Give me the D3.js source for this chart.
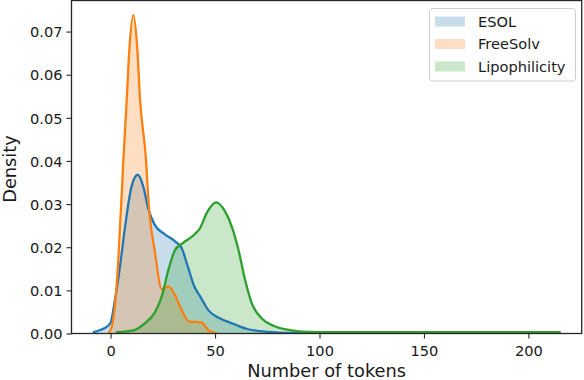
<!DOCTYPE html>
<html>
<head>
<meta charset="utf-8">
<script src="https://cdn.jsdelivr.net/npm/d3@7/dist/d3.min.js"></script>
<style>
  html, body { margin: 0; padding: 0; background: #fff; }
  svg { display: block; font-family: "DejaVu Sans", sans-serif; }
</style>
</head>
<body>
<svg id="chart" width="584" height="380"></svg>
<script>
// ---- Data ----
const seriesNames = ["ESOL", "FreeSolv", "Lipophilicity"];

const esolX = [-8, -5, -3, 0, 2, 4.5, 7, 10, 13, 15.7, 18, 21, 26, 31, 34, 37, 40, 43, 47, 52, 59, 65, 75, 90, 105];
const esolY = [0.0003, 0.0008, 0.0012, 0.0025, 0.0075, 0.0155, 0.025, 0.034, 0.0368, 0.034, 0.029, 0.0253, 0.023, 0.0213, 0.0198, 0.0155, 0.011, 0.0085, 0.0053, 0.0036, 0.0022, 0.0011, 0.0004, 0.0001, 0.0];

const freesolvX = [-1, 0.6, 2.2, 3.7, 6.1, 7.75, 9.0, 10.9, 12.8, 14.1, 17, 18.1, 21.3, 24.5, 27.7, 30.5, 33.3, 38, 41, 43.7, 46.8, 50.8];
const freesolvY = [0.0, 0.0016, 0.007, 0.017, 0.040, 0.0543, 0.0659, 0.0738, 0.0659, 0.0543, 0.040, 0.031, 0.0187, 0.0103, 0.0109, 0.0092, 0.0062, 0.0027, 0.0027, 0.0025, 0.0008, 0.0];

const lipoX = [3, 10.9, 16.5, 21.3, 24.5, 27.7, 30.9, 34.1, 40, 42.8, 46, 50.5, 54.8, 58, 61.2, 64.4, 67.6, 72.4, 77.9, 85.9, 93.9, 110, 150, 215];
const lipoY = [0.0003, 0.0007, 0.0024, 0.005, 0.0086, 0.0148, 0.0194, 0.0208, 0.0229, 0.0244, 0.0279, 0.0304, 0.0283, 0.0248, 0.0194, 0.0124, 0.007, 0.0035, 0.0018, 0.0008, 0.0004, 0.0003, 0.0003, 0.0003];

const xTickValues = [0, 50, 100, 150, 200];
const yTickValues = [0, 0.01, 0.02, 0.03, 0.04, 0.05, 0.06, 0.07];
const xLabel = "Number of tokens";
const yLabel = "Density";
const colors = ["#1f77b4", "#ff7f0e", "#2ca02c"];

// ---- Build ----
const series = [
  { name: seriesNames[0], xs: esolX, ys: esolY, color: colors[0] },
  { name: seriesNames[1], xs: freesolvX, ys: freesolvY, color: colors[1] },
  { name: seriesNames[2], xs: lipoX, ys: lipoY, color: colors[2] }
];

const svg = d3.select("#chart");
const pLeft = 71.5, pRight = 581.7, pTop = 0.5, pBottom = 333.5;

const x = d3.scaleLinear().domain([-18.7, 225.5]).range([pLeft, pRight]);
const y = d3.scaleLinear().domain([0, 0.0772]).range([pBottom, pTop]);

const defs = svg.append("defs");
defs.append("clipPath").attr("id", "plotclip")
  .append("rect").attr("x", pLeft).attr("y", pTop)
  .attr("width", pRight - pLeft).attr("height", pBottom - pTop);

const plot = svg.append("g").attr("clip-path", "url(#plotclip)");
const fillLayer = plot.append("g");
const lineLayer = plot.append("g");

const area = d3.area()
  .x(d => x(d[0])).y0(y(0)).y1(d => y(d[1]))
  .curve(d3.curveMonotoneX);
const line = d3.line()
  .x(d => x(d[0])).y(d => y(d[1]))
  .curve(d3.curveMonotoneX);

series.forEach(s => {
  const pts = s.xs.map((xv, i) => [xv, s.ys[i]]);
  fillLayer.append("path").datum(pts)
    .attr("d", area)
    .attr("fill", s.color).attr("fill-opacity", 0.25).attr("stroke", "none");
  lineLayer.append("path").datum(pts)
    .attr("d", line)
    .attr("fill", "none").attr("stroke", s.color)
    .attr("stroke-width", 2.3).attr("stroke-linejoin", "round").attr("stroke-linecap", "round");
});

// Axes
const textColor = "#1a1a1a";
const xAxis = svg.append("g").attr("transform", `translate(0,${pBottom})`)
  .call(d3.axisBottom(x).tickValues(xTickValues).tickFormat(d3.format("d")).tickSize(5).tickSizeOuter(0));
const yAxis = svg.append("g").attr("transform", `translate(${pLeft},0)`)
  .call(d3.axisLeft(y).tickValues(yTickValues).tickFormat(d3.format(".2f")).tickSize(5).tickSizeOuter(0));

[xAxis, yAxis].forEach(g => {
  g.select(".domain").remove();
  g.selectAll(".tick line").attr("stroke", "#262626").attr("stroke-width", 1.1);
  g.selectAll(".tick text")
    .attr("fill", textColor)
    .style("font-family", "'DejaVu Sans', sans-serif")
    .style("font-size", "14.6px");
});
xAxis.selectAll(".tick text").attr("dy", null).attr("y", 22);
yAxis.selectAll(".tick text").attr("x", -9).attr("dy", "0.36em");

// Spines
svg.append("rect")
  .attr("x", pLeft).attr("y", pTop)
  .attr("width", pRight - pLeft).attr("height", pBottom - pTop)
  .attr("fill", "none").attr("stroke", "#262626").attr("stroke-width", 1.3);

// Axis labels
svg.append("text")
  .attr("x", (pLeft + pRight) / 2).attr("y", 377)
  .attr("text-anchor", "middle")
  .attr("fill", textColor)
  .style("font-size", "17.8px")
  .text(xLabel);

svg.append("text")
  .attr("transform", `translate(16,${(pTop + pBottom) / 2 + 2}) rotate(-90)`)
  .attr("text-anchor", "middle")
  .attr("fill", textColor)
  .style("font-size", "17.8px")
  .text(yLabel);

// Legend
const lg = svg.append("g");
lg.append("rect")
  .attr("x", 429.5).attr("y", 8.5).attr("width", 146).attr("height", 72.5)
  .attr("rx", 3).attr("ry", 3)
  .attr("fill", "#fff").attr("fill-opacity", 0.8)
  .attr("stroke", "#cccccc").attr("stroke-width", 1);

series.forEach((s, i) => {
  const cy = 21.5 + i * 22.5;
  lg.append("rect")
    .attr("x", 435).attr("y", cy - 5).attr("width", 30).attr("height", 10)
    .attr("fill", s.color).attr("fill-opacity", 0.25);
  lg.append("text")
    .attr("x", 478).attr("y", cy).attr("dy", "0.36em")
    .attr("fill", textColor)
    .style("font-size", "14.6px")
    .text(s.name);
});
</script>
</body>
</html>
